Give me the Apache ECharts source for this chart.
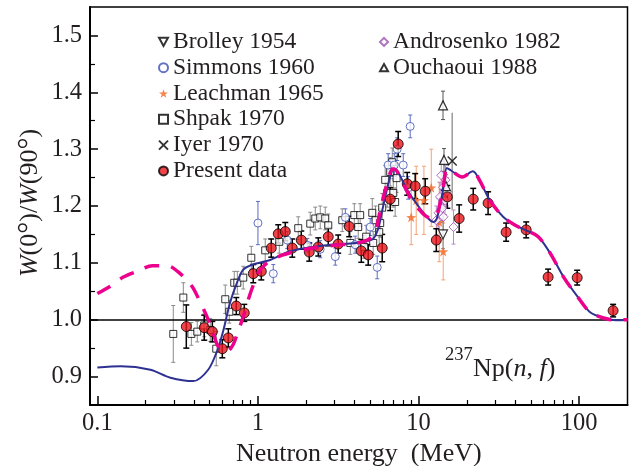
<!DOCTYPE html>
<html>
<head>
<meta charset="utf-8">
<script src="https://cdn.jsdelivr.net/npm/echarts@6.0.0/dist/echarts.min.js"></script>
<style>
  html, body { margin: 0; padding: 0; background: #fff; }
  #chart { width: 629px; height: 466px; }
</style>
</head>
<body>
<div id="chart"></div>
<script>
// tick positions
const xMajor = [0.1, 1, 10, 100];
const xTickLabels = ['0.1', '1', '10', '100'];
const xMinor = [0.2, 0.3, 0.4, 0.5, 0.6, 0.7, 0.8, 0.9, 2, 3, 4, 5, 6, 7, 8, 9, 20, 30, 40, 50, 60, 70, 80, 90];
const yMajor = [0.9, 1.0, 1.1, 1.2, 1.3, 1.4, 1.5];
const yMinor = [0.95, 1.05, 1.15, 1.25, 1.35, 1.45];

// Present data
const presentE = [0.358, 0.463, 0.52, 0.60, 0.654, 0.733, 0.822, 0.935, 1.049, 1.21, 1.338, 1.48, 1.636, 1.861, 2.087, 2.375, 2.74, 3.16, 3.70, 4.40, 4.86, 5.94, 6.66, 7.47, 8.50, 9.53, 11.0, 12.9, 15.1, 17.9, 21.9, 27.1, 35.1, 46.8, 64.1, 97.2, 162.7];
const presentW = [0.988, 0.986, 0.979, 0.949, 0.968, 1.024, 1.012, 1.081, 1.085, 1.126, 1.151, 1.155, 1.126, 1.140, 1.119, 1.128, 1.146, 1.133, 1.164, 1.121, 1.114, 1.126, 1.212, 1.309, 1.239, 1.235, 1.226, 1.140, 1.216, 1.178, 1.212, 1.205, 1.154, 1.158, 1.075, 1.074, 1.016];
const presentErr = [0.038, 0.022, 0.018, 0.016, 0.016, 0.015, 0.015, 0.016, 0.015, 0.016, 0.016, 0.016, 0.016, 0.016, 0.016, 0.016, 0.016, 0.016, 0.018, 0.02, 0.018, 0.024, 0.02, 0.022, 0.02, 0.022, 0.022, 0.02, 0.02, 0.024, 0.019, 0.02, 0.016, 0.014, 0.014, 0.013, 0.011];

// Shpak 1970
const shpakE = [0.297, 0.343, 0.385, 0.419, 0.463, 0.505, 0.55, 0.626, 0.663, 0.712, 0.744, 0.81, 0.909, 1.11, 1.358, 1.782, 2.117, 2.275, 2.443, 2.624, 2.74, 3.35, 3.76, 3.98, 4.21, 4.33, 4.59, 4.72, 5.15, 5.22, 5.4, 5.69, 5.77, 5.94, 6.2, 6.38, 6.66, 6.86, 6.96, 7.15, 7.3];
const shpakW = [0.975, 1.039, 0.975, 0.979, 0.99, 0.982, 0.949, 1.036, 1.014, 1.065, 1.065, 1.074, 1.109, 1.122, 1.137, 1.161, 1.169, 1.178, 1.18, 1.178, 1.166, 1.175, 1.135, 1.184, 1.163, 1.184, 1.128, 1.146, 1.188, 1.135, 1.175, 1.154, 1.17, 1.197, 1.246, 1.223, 1.26, 1.277, 1.223, 1.207, 1.249];
const shpakErr = [0.05, 0.026, 0.02, 0.018, 0.02, 0.02, 0.03, 0.025, 0.02, 0.02, 0.02, 0.02, 0.02, 0.02, 0.02, 0.02, 0.02, 0.02, 0.02, 0.02, 0.02, 0.02, 0.02, 0.02, 0.02, 0.02, 0.02, 0.02, 0.025, 0.02, 0.025, 0.025, 0.025, 0.025, 0.025, 0.025, 0.025, 0.025, 0.025, 0.025, 0.025];

// Simmons 1960
const simmonsE = [1.0, 1.246, 1.523, 2.03, 2.44, 3.03, 3.5, 4.03, 5.0, 5.53, 6.47, 7.06, 7.36, 8.03, 8.62, 8.87];
const simmonsW = [1.17, 1.081, 1.14, 1.131, 1.124, 1.111, 1.18, 1.132, 1.163, 1.092, 1.272, 1.272, 1.30, 1.272, 1.232, 1.34];
const simmonsErr = [0.038, 0.016, 0.015, 0.012, 0.015, 0.015, 0.015, 0.015, 0.015, 0.02, 0.02, 0.02, 0.02, 0.02, 0.02, 0.02];

// Leachman 1965
const leachE = [9.0, 9.67, 10.8, 12.0, 13.45, 14.24];
const leachW = [1.18, 1.21, 1.21, 1.232, 1.172, 1.12];
const leachErr = [0.048, 0.06, 0.06, 0.068, 0.07, 0.05];

// Brolley 1954
const brolleyE = [14.2];
const brolleyW = [1.15];
const brolleyErr = [0.025];

// Ouchaoui 1988
const ouchE = [14.2, 14.4, 14.8];
const ouchW = [1.377, 1.281, 1.235];
const ouchErr = [0.025, 0.02, 0.02];

// Iyer 1970
const iyerE = [16.2];
const iyerW = [1.279];
const iyerErr = [0.085];

// Androsenko 1982
const androE = [12.9, 13.3, 13.6, 13.85, 14.05, 14.2, 14.3, 14.6, 14.7, 15.0, 16.5];
const androW = [1.175, 1.188, 1.216, 1.254, 1.196, 1.233, 1.181, 1.21, 1.246, 1.225, 1.163];
const androErr = [0.025, 0.025, 0.025, 0.025, 0.025, 0.025, 0.025, 0.025, 0.025, 0.025, 0.03];

// calculation curves
const blueE = [0.1, 0.14, 0.214, 0.285, 0.396, 0.49, 0.56, 0.61, 0.67, 0.74, 0.81, 0.93, 1.19, 1.6, 2.5, 3.3, 4.3, 5.2, 5.6, 5.9, 6.4, 6.8, 7.0, 7.5, 8.5, 10.2, 11.8, 12.4, 13.0, 14.2, 15.0, 16.0, 18.7, 21.8, 24.0, 27.8, 33.6, 40, 46, 55.6, 66, 80, 98, 117, 142, 170, 200];
const blueW = [0.916, 0.918, 0.912, 0.898, 0.892, 0.912, 0.947, 0.982, 1.03, 1.065, 1.088, 1.097, 1.105, 1.121, 1.13, 1.133, 1.136, 1.142, 1.16, 1.188, 1.233, 1.26, 1.266, 1.258, 1.228, 1.196, 1.175, 1.172, 1.178, 1.228, 1.267, 1.262, 1.251, 1.261, 1.245, 1.21, 1.181, 1.166, 1.158, 1.146, 1.117, 1.075, 1.04, 1.013, 1.003, 0.999, 1.0];
const pinkE = [0.1, 0.119, 0.145, 0.18, 0.22, 0.273, 0.328, 0.39, 0.43, 0.47, 0.52, 0.566, 0.64, 0.7, 0.75, 0.81, 0.87, 0.935, 1.0, 1.14, 1.4, 1.7, 2.2, 3.0, 4.0, 4.8, 5.2, 5.5, 5.8, 6.2, 6.6, 6.9, 7.3, 8.0, 9.0, 10, 11, 12.3, 13.2, 14.2, 15, 16, 18.7, 21.8, 24, 27.8, 33.6, 40, 46, 55.6, 66, 80, 98, 117, 142, 160, 200];
const pinkW = [1.046, 1.058, 1.075, 1.086, 1.095, 1.095, 1.081, 1.058, 1.035, 1.012, 0.982, 0.953, 0.944, 0.956, 0.979, 1.005, 1.035, 1.061, 1.082, 1.1, 1.113, 1.12, 1.126, 1.131, 1.134, 1.14, 1.148, 1.165, 1.195, 1.228, 1.255, 1.265, 1.262, 1.24, 1.212, 1.195, 1.183, 1.177, 1.19, 1.23, 1.265, 1.262, 1.251, 1.261, 1.245, 1.21, 1.181, 1.166, 1.158, 1.146, 1.117, 1.075, 1.04, 1.013, 1.003, 1.0, 1.0];

const FONT = 'Liberation Serif';
const INK = '#231f20';

const chart = echarts.init(document.getElementById('chart'));

function pts(xs, ys, es) {
  return xs.map((x, i) => (es ? [x, ys[i], es[i]] : [x, ys[i]]));
}

// vertical error bars with small caps
function errorBars(name, xs, ys, es, color, width, cap) {
  return {
    type: 'custom',
    name: name + ' err',
    silent: true,
    z: 2,
    data: pts(xs, ys, es),
    encode: { x: 0, y: 1 },
    renderItem: (params, api) => {
      const x = api.value(0), y = api.value(1), e = api.value(2);
      const hi = api.coord([x, y + e]);
      const lo = api.coord([x, y - e]);
      const style = { stroke: color, lineWidth: width };
      return {
        type: 'group',
        children: [
          { type: 'line', shape: { x1: hi[0], y1: hi[1], x2: lo[0], y2: lo[1] }, style },
          { type: 'line', shape: { x1: hi[0] - cap, y1: hi[1], x2: hi[0] + cap, y2: hi[1] }, style },
          { type: 'line', shape: { x1: lo[0] - cap, y1: lo[1], x2: lo[0] + cap, y2: lo[1] }, style }
        ]
      };
    }
  };
}

function marks(name, xs, ys, symbol, size, itemStyle, z) {
  return {
    type: 'scatter', name, silent: true, z: z || 3,
    data: pts(xs, ys), symbol, symbolSize: size, itemStyle
  };
}

const STAR = 'path://M5,0 L6.18,3.38 L9.76,3.45 L6.9,5.62 L7.94,9.05 L5,7 L2.06,9.05 L3.1,5.62 L0.24,3.45 L3.82,3.38 Z';
const DOWN = 'path://M0,0 L10,0 L5,9 Z';
const UP = 'path://M5,0 L10,9 L0,9 Z';
const CROSS = 'path://M0,0 L10,10 M10,0 L0,10';

const shpakSeries = marks('Shpak 1970', shpakE, shpakW, 'rect', 7, { color: '#fff', borderColor: '#000', borderWidth: 1 });
shpakSeries.markLine = {
  silent: true, symbol: 'none', label: { show: false },
  lineStyle: { color: '#000', width: 1.5, type: 'solid' },
  data: [{ yAxis: 1.0 }]
};

const legendText = { fontFamily: FONT, fontSize: 23.5, color: INK, lineHeight: 25.8 };

const option = {
  animation: false,
  backgroundColor: '#fff',
  grid: {
    left: 90, right: 1.5, top: 7, bottom: 61, outerBoundsMode: 'none',
    show: true, borderColor: '#000', borderWidth: 1.5
  },
  legend: [
    {
      data: ['Brolley 1954', 'Simmons 1960', 'Leachman 1965', 'Shpak 1970', 'Iyer 1970', 'Present data'],
      orient: 'vertical', left: 158, top: 29, padding: 0, itemWidth: 9, itemHeight: 9, itemGap: 0,
      selectedMode: false, textStyle: legendText
    },
    {
      data: ['Androsenko 1982', 'Ouchaoui 1988'],
      orient: 'vertical', left: 379, top: 29, padding: 0, itemWidth: 8, itemHeight: 8, itemGap: 0,
      selectedMode: false, textStyle: legendText
    }
  ],
  xAxis: [
    {
      type: 'log', logBase: 10, min: 0.09, max: 200,
      axisLine: { lineStyle: { color: '#000', width: 2 } },
      axisTick: { inside: true, length: 9, customValues: xMajor, lineStyle: { color: '#000', width: 1.5 } },
      axisLabel: {
        customValues: xMajor, margin: 6, fontFamily: FONT, fontSize: 24.5, color: INK,
        formatter: (v) => {
          const i = xMajor.findIndex((t) => Math.abs(Math.log10(t) - Math.log10(v)) < 1e-6);
          return i >= 0 ? xTickLabels[i] : '';
        }
      },
      splitLine: { show: false },
      name: 'Neutron energy  (MeV)', nameLocation: 'middle', nameGap: 34,
      nameTextStyle: { fontFamily: FONT, fontSize: 26, color: INK }
    },
    {
      type: 'log', logBase: 10, min: 0.09, max: 200, position: 'bottom',
      axisLine: { show: false },
      axisTick: { inside: true, length: 5, customValues: xMinor, lineStyle: { color: '#000', width: 1.2 } },
      axisLabel: { show: false },
      splitLine: { show: false }
    }
  ],
  yAxis: [
    {
      type: 'value', min: 0.85, max: 1.55,
      axisLine: { show: true, lineStyle: { color: '#000', width: 2 } },
      axisTick: { inside: true, length: 8, customValues: yMajor, lineStyle: { color: '#000', width: 1.5 } },
      axisLabel: {
        customValues: yMajor, margin: 8, fontFamily: FONT, fontSize: 24.5, color: INK,
        formatter: (v) => v.toFixed(1)
      },
      splitLine: { show: false }
    },
    {
      type: 'value', min: 0.85, max: 1.55, position: 'left',
      axisLine: { show: false },
      axisTick: { inside: true, length: 5, customValues: yMinor, lineStyle: { color: '#000', width: 1.2 } },
      axisLabel: { show: false },
      splitLine: { show: false }
    }
  ],
  graphic: [
    {
      type: 'text', x: 30, y: 203, rotation: Math.PI / 2,
      style: {
        text: '{i|W}(0{d|°})/{i|W}(90{d|°})', fontFamily: FONT, fontSize: 26, fill: INK,
        align: 'center', verticalAlign: 'middle',
        rich: {
          i: { fontFamily: FONT, fontSize: 26, fontStyle: 'italic', fill: INK },
          d: { fontFamily: FONT, fontSize: 30, fill: INK }
        }
      }
    },
    {
      type: 'text', x: 445, y: 355,
      style: { text: '237', fontFamily: FONT, fontSize: 18.5, fill: INK, align: 'left', verticalAlign: 'middle' }
    },
    {
      type: 'text', x: 473, y: 369,
      style: {
        text: 'Np({i|n}, {i|f})', fontFamily: FONT, fontSize: 26, fill: INK, align: 'left', verticalAlign: 'middle',
        rich: { i: { fontFamily: FONT, fontSize: 26, fontStyle: 'italic', fill: INK } }
      }
    }
  ],
  series: [
    errorBars('Shpak 1970', shpakE, shpakW, shpakErr, '#8a8a8a', 1, 2),
    errorBars('Simmons 1960', simmonsE, simmonsW, simmonsErr, '#5b6cc4', 1, 2),
    errorBars('Leachman 1965', leachE, leachW, leachErr, '#f5a274', 1, 2),
    errorBars('Androsenko 1982', androE, androW, androErr, '#b98ac8', 1, 2),
    errorBars('Brolley 1954', brolleyE, brolleyW, brolleyErr, '#8a8a8a', 1, 2),
    errorBars('Ouchaoui 1988', ouchE, ouchW, ouchErr, '#555', 1, 2),
    errorBars('Iyer 1970', iyerE, iyerW, iyerErr, '#9a9a9a', 1.5, 0),
    errorBars('Present data', presentE, presentW, presentErr, '#000', 1.5, 3),
    shpakSeries,
    marks('Simmons 1960', simmonsE, simmonsW, 'circle', 8, { color: '#fff', borderColor: '#3d4fb8', borderWidth: 1 }),
    marks('Leachman 1965', leachE, leachW, STAR, 10, { color: '#f26522', borderWidth: 0 }),
    marks('Androsenko 1982', androE, androW, 'diamond', 9, { color: '#fff', borderColor: '#9b4fb0', borderWidth: 1 }),
    marks('Brolley 1954', brolleyE, brolleyW, DOWN, 9, { color: '#fff', borderColor: '#000', borderWidth: 1.2 }),
    marks('Ouchaoui 1988', ouchE, ouchW, UP, 9, { color: '#fff', borderColor: '#000', borderWidth: 1.2 }),
    marks('Iyer 1970', iyerE, iyerW, CROSS, 9, { color: '#000', borderColor: '#000', borderWidth: 1.5 }),
    marks('Present data', presentE, presentW, 'circle', 10, { color: '#e8141c', borderColor: '#000', borderWidth: 1 }, 4),
    {
      type: 'line', name: 'calc', silent: true, z: 5, data: pts(blueE, blueW),
      showSymbol: false, smooth: 0.3, lineStyle: { color: '#2e3192', width: 2 }
    },
    {
      type: 'line', name: 'calc2', silent: true, z: 6, data: pts(pinkE, pinkW),
      showSymbol: false, smooth: 0.3, lineStyle: { color: '#ec008c', width: 3.5, type: [15, 12], cap: 'butt' }
    }
  ]
};

chart.setOption(option);
</script>
</body>
</html>
